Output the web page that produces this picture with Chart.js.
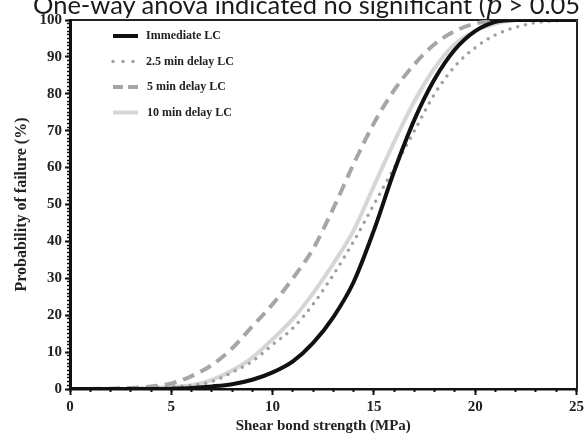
<!DOCTYPE html>
<html>
<head>
<meta charset="utf-8">
<script src="https://cdn.jsdelivr.net/npm/chart.js@4/dist/chart.umd.min.js"></script>
<style>
  body { margin: 0; background: #fff; }
  #wrap { position: relative; width: 587px; height: 437px; overflow: hidden; }
  #cap {
    position: absolute; left: 33px; top: -9px; white-space: nowrap;
    font-family: Lato, "Noto Sans", sans-serif; font-size: 25.5px; line-height: 26px; color: #1a1a1a;
  }
  #cap i { font-family: "DejaVu Serif", serif; }
  canvas { position: absolute; left: 0; top: 0; }
</style>
</head>
<body>
<div id="wrap">
  <canvas id="myChart" width="587" height="437"></canvas>
  <div id="cap">One-way anova indicated no significant (<i>p</i> &gt; 0.05</div>
</div>
<script>
; ((D) => {

  // shear bond strength (MPa)
  let strength = [0, 1, 2, 3, 4, 5, 6, 7, 8, 9, 10, 11, 12, 13, 14, 15, 16, 17, 18, 19, 20, 21, 22, 23, 24, 25];

  // probability of failure (%)
  let immediate = [0, 0, 0, 0, 0, 0.1, 0.3, 0.7, 1.3, 2.5, 4.5, 7.5, 12.5, 19.5, 29, 43, 59, 73, 84, 92, 97, 99.5, 100, 100, 100, 100];
  let delay25 = [0, 0, 0, 0.1, 0.3, 0.6, 1, 2, 4.5, 7.5, 12, 16.5, 23, 31, 40, 50, 60, 70, 80, 87.5, 92.5, 96, 98, 99.3, 99.8, 100];
  let delay5 = [0, 0, 0.1, 0.3, 0.7, 1.5, 3.5, 6.5, 11, 17, 23, 30, 38, 49, 61, 72, 81, 88, 93.5, 97, 99, 99.8, 100, 100, 100, 100];
  let delay10 = [0, 0, 0, 0.1, 0.3, 0.6, 1, 2.5, 5, 8.5, 13.5, 19, 26, 34, 43, 55, 67, 78, 87, 93.5, 97, 99, 100, 100, 100, 100];

  let names = ["Immediate LC", "2.5 min delay LC", "5 min delay LC", "10 min delay LC"];

  let pts = arr => arr.map((v, i) => ({ x: strength[i], y: v }));

  let serif = "'Liberation Serif', 'Times New Roman', serif";

  // legend drawn inside the plot, top left
  let inLegend = {
    id: 'inLegend',
    afterDatasetsDraw(chart) {
      let ctx = chart.ctx;
      let a = chart.chartArea;
      let x0 = a.left + 43;
      chart.data.datasets.forEach((ds, i) => {
        let y = a.top + 16 + i * 25.5;
        ctx.save();
        ctx.strokeStyle = ds.borderColor;
        ctx.lineWidth = ds.borderWidth;
        ctx.lineCap = ds.borderCapStyle || 'butt';
        ctx.setLineDash(ds.legendDash || []);
        ctx.beginPath();
        ctx.moveTo(x0, y);
        ctx.lineTo(x0 + 25, y);
        ctx.stroke();
        ctx.setLineDash([]);
        ctx.fillStyle = '#222';
        ctx.font = "bold 12px " + serif;
        ctx.textBaseline = 'middle';
        ctx.fillText(ds.label, x0 + 33 + (i > 1 ? 1 : 0), y);
        ctx.restore();
      });
    }
  };

  let ctx = D.querySelector('#myChart').getContext('2d');

  let chart = new Chart(ctx, {
    type: 'line',
    data: {
      datasets: [
        { label: names[0], data: pts(immediate), borderColor: '#111', borderWidth: 4 },
        { label: names[1], data: pts(delay25), borderColor: '#a0a0a0', borderWidth: 3.5,
          borderDash: [0, 8], borderCapStyle: 'round', legendDash: [0, 10] },
        { label: names[2], data: pts(delay5), borderColor: '#a6a6a6', borderWidth: 4,
          borderDash: [12, 7], legendDash: [10, 5] },
        { label: names[3], data: pts(delay10), borderColor: '#d6d6d6', borderWidth: 4 },
      ].map(d => Object.assign({ pointRadius: 0, cubicInterpolationMode: 'monotone', fill: false }, d)),
    },
    options: {
      responsive: false,
      animation: false,
      layout: { padding: { top: 20, right: 8, left: 0, bottom: 0 } },
      plugins: { legend: { display: false }, tooltip: { enabled: false } },
      scales: {
        x: {
          type: 'linear', position: 'bottom', weight: 1, min: 0, max: 25,
          ticks: { stepSize: 5, color: '#222', padding: 3, maxRotation: 0,
                   font: { family: serif, weight: 'bold', size: 15 } },
          grid: { drawOnChartArea: false, tickLength: 6, tickWidth: 2, tickColor: '#111' },
          border: { color: '#111', width: 2.5 },
          title: { display: true, text: 'Shear bond strength (MPa)', color: '#222',
                   font: { family: serif, weight: 'bold', size: 15 }, padding: { top: 0, bottom: 2 } },
          afterFit: s => { s.height = 48; },
        },
        xMinor: {
          type: 'linear', position: 'bottom', weight: 0, min: 0, max: 25,
          ticks: { stepSize: 1, display: false, autoSkip: false },
          grid: { drawOnChartArea: false, tickLength: 3, tickWidth: 2, tickColor: '#111' },
          border: { display: false },
          afterFit: s => { s.height = 0; },
        },
        xTop: {
          type: 'linear', position: 'top', min: 0, max: 25,
          ticks: { display: false },
          grid: { drawOnChartArea: false, drawTicks: false },
          border: { color: '#222', width: 2 },
          afterFit: s => { s.height = 0; },
        },
        y: {
          position: 'left', weight: 1, min: 0, max: 100,
          ticks: { stepSize: 10, color: '#222', padding: 3,
                   font: { family: serif, weight: 'bold', size: 15 } },
          grid: { drawOnChartArea: false, tickLength: 5, tickWidth: 2, tickColor: '#111' },
          border: { color: '#111', width: 3 },
          title: { display: true, text: 'Probability of failure (%)', color: '#222',
                   font: { family: serif, weight: 'bold', size: 16 }, padding: { top: 12, bottom: 0 } },
          afterFit: s => { s.width = 70; },
        },
        yMinor: {
          position: 'left', weight: 0, min: 0, max: 100,
          ticks: { stepSize: 1, display: false, autoSkip: false },
          grid: { drawOnChartArea: false, tickLength: 3, tickWidth: 1.5, tickColor: '#111' },
          border: { display: false },
          afterFit: s => { s.width = 0; },
        },
        yRight: {
          position: 'right', min: 0, max: 100,
          ticks: { display: false },
          grid: { drawOnChartArea: false, drawTicks: false },
          border: { color: '#222', width: 2 },
          afterFit: s => { s.width = 0; },
        },
      },
    },
    plugins: [inLegend],
  });
})(document)
</script>
</body>
</html>
